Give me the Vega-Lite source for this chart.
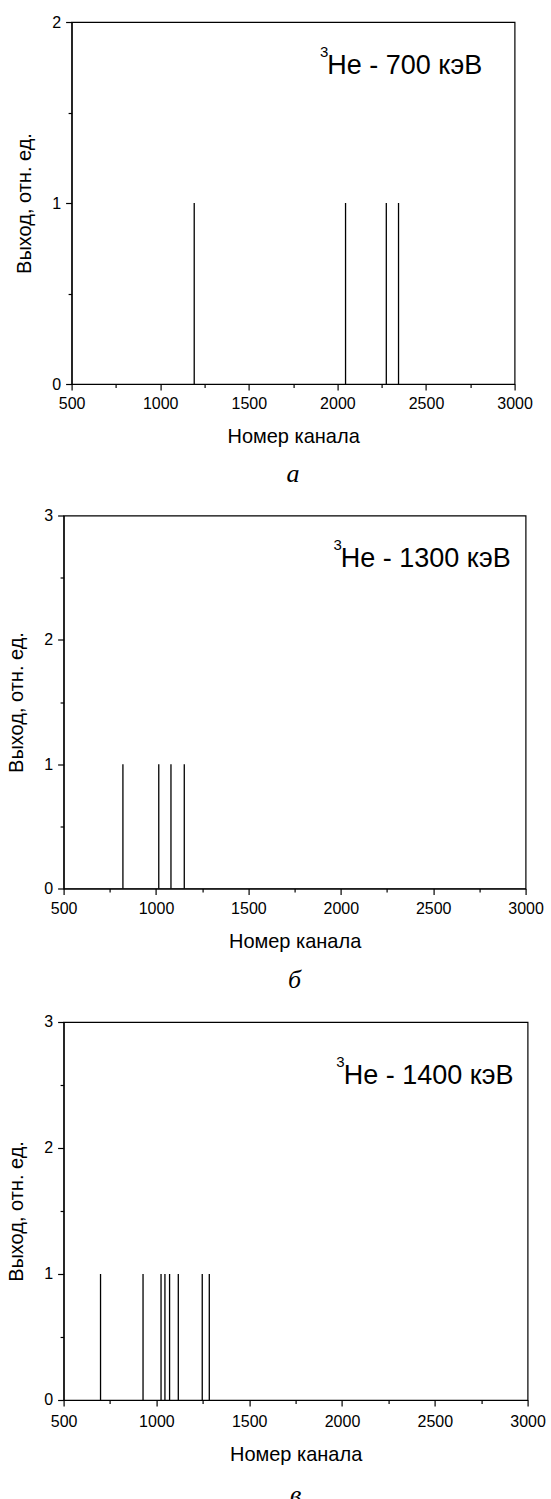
{
  "$schema": "https://vega.github.io/schema/vega-lite/v6.json",
  "background": "white",
  "padding": {"left": 5.6, "top": 13, "right": 2, "bottom": 0},
  "spacing": 18.5,
  "config": {
    "view": {"stroke": "black", "strokeWidth": 1.2},
    "axis": {
      "domainColor": "black", "domainWidth": 1.2, "tickColor": "black", "tickWidth": 1.2,
      "labelColor": "black", "titleColor": "black",
      "labelFont": "Liberation Sans", "titleFont": "Liberation Sans",
      "labelFontSize": 16, "titleFontSize": 20, "titleFontWeight": "normal",
      "grid": false, "labelFlush": false, "labelOverlap": false
    },
    "title": {"font": "Liberation Serif", "fontStyle": "italic", "fontSize": 26, "fontWeight": "normal", "color": "black", "orient": "bottom", "anchor": "middle"}
  },
  "datasets": {
    "p1": [
      {"channel": 1192, "yield": 1},
      {"channel": 2046, "yield": 1},
      {"channel": 2276, "yield": 1},
      {"channel": 2345, "yield": 1}
    ],
    "p2": [
      {"channel": 821, "yield": 1},
      {"channel": 1015, "yield": 1},
      {"channel": 1081, "yield": 1},
      {"channel": 1153, "yield": 1}
    ],
    "p3": [
      {"channel": 699, "yield": 1},
      {"channel": 928, "yield": 1},
      {"channel": 1025, "yield": 1},
      {"channel": 1046, "yield": 1},
      {"channel": 1071, "yield": 1},
      {"channel": 1118, "yield": 1},
      {"channel": 1247, "yield": 1},
      {"channel": 1285, "yield": 1}
    ],
    "a1": [{"channel": 1943, "yield": 1.713, "label": "He - 700 кэВ", "sup": "3"}],
    "a2": [{"channel": 2000, "yield": 2.589, "label": "He - 1300 кэВ", "sup": "3"}],
    "a3": [{"channel": 2009, "yield": 2.508, "label": "He - 1400 кэВ", "sup": "3"}]
  },
  "vconcat": [
    {
      "hconcat": [
        {
          "width": 8, "height": 1,
          "view": {"stroke": null},
          "data": {"values": []},
          "mark": "point"
        },
        {
          "width": 443, "height": 362,
          "title": {"text": "а", "offset": 14},
          "layer": [
            {
              "data": {"name": "p1"},
              "mark": {"type": "rule", "color": "black", "strokeWidth": 1.3},
              "encoding": {
                "x": {"field": "channel", "type": "quantitative", "title": "Номер канала",
                  "scale": {"domain": [500, 3000], "nice": false, "zero": false},
                  "axis": {"values": [500, 750, 1000, 1250, 1500, 1750, 2000, 2250, 2500, 2750, 3000],
                    "labelExpr": "datum.value % 500 === 0 ? format(datum.value, 'd') : ''",
                    "tickSize": {"condition": {"test": "datum.value % 500 !== 0", "value": 3.5}, "value": 6},
                    "labelPadding": 5.5, "titlePadding": 15}},
                "y": {"field": "yield", "type": "quantitative", "title": "Выход, отн. ед.",
                  "scale": {"domain": [0, 2], "nice": false},
                  "axis": {"values": [0, 0.5, 1, 1.5, 2],
                    "labelExpr": "datum.value % 1 === 0 ? format(datum.value, 'd') : ''",
                    "tickSize": {"condition": {"test": "datum.value % 1 !== 0", "value": 3.5}, "value": 6},
                    "labelPadding": 5, "titlePadding": 17.5}},
                "y2": {"datum": 0}
              }
            },
            {
              "data": {"name": "a1"},
              "mark": {"type": "text", "align": "left", "baseline": "alphabetic", "font": "Liberation Sans", "fontSize": 27, "color": "black"},
              "encoding": {
                "x": {"field": "channel", "type": "quantitative", "title": "Номер канала"},
                "y": {"field": "yield", "type": "quantitative", "title": "Выход, отн. ед."},
                "text": {"field": "label"}
              }
            },
            {
              "data": {"name": "a1"},
              "mark": {"type": "text", "align": "right", "baseline": "alphabetic", "font": "Liberation Sans", "fontSize": 15, "color": "black", "dx": 1, "dy": -17},
              "encoding": {
                "x": {"field": "channel", "type": "quantitative", "title": "Номер канала"},
                "y": {"field": "yield", "type": "quantitative", "title": "Выход, отн. ед."},
                "text": {"field": "sup"}
              }
            }
          ]
        }
      ],
      "spacing": 0,
      "bounds": "flush"
    },
    {
      "width": 462, "height": 373,
      "title": {"text": "б", "offset": 15},
      "layer": [
        {
          "data": {"name": "p2"},
          "mark": {"type": "rule", "color": "black", "strokeWidth": 1.3},
          "encoding": {
            "x": {"field": "channel", "type": "quantitative", "title": "Номер канала",
              "scale": {"domain": [500, 3000], "nice": false, "zero": false},
              "axis": {"values": [500, 750, 1000, 1250, 1500, 1750, 2000, 2250, 2500, 2750, 3000],
                "labelExpr": "datum.value % 500 === 0 ? format(datum.value, 'd') : ''",
                "tickSize": {"condition": {"test": "datum.value % 500 !== 0", "value": 3.5}, "value": 6},
                "labelPadding": 6.5, "titlePadding": 15}},
            "y": {"field": "yield", "type": "quantitative", "title": "Выход, отн. ед.",
              "scale": {"domain": [0, 3], "nice": false},
              "axis": {"values": [0, 0.5, 1, 1.5, 2, 2.5, 3],
                "labelExpr": "datum.value % 1 === 0 ? format(datum.value, 'd') : ''",
                "tickSize": {"condition": {"test": "datum.value % 1 !== 0", "value": 3.5}, "value": 6},
                "labelPadding": 5, "titlePadding": 17.5}},
            "y2": {"datum": 0}
          }
        },
        {
          "data": {"name": "a2"},
          "mark": {"type": "text", "align": "left", "baseline": "alphabetic", "font": "Liberation Sans", "fontSize": 27, "color": "black"},
          "encoding": {
            "x": {"field": "channel", "type": "quantitative", "title": "Номер канала"},
            "y": {"field": "yield", "type": "quantitative", "title": "Выход, отн. ед."},
            "text": {"field": "label"}
          }
        },
        {
          "data": {"name": "a2"},
          "mark": {"type": "text", "align": "right", "baseline": "alphabetic", "font": "Liberation Sans", "fontSize": 15, "color": "black", "dx": 1, "dy": -17},
          "encoding": {
            "x": {"field": "channel", "type": "quantitative", "title": "Номер канала"},
            "y": {"field": "yield", "type": "quantitative", "title": "Выход, отн. ед."},
            "text": {"field": "sup"}
          }
        }
      ]
    },
    {
      "width": 464, "height": 378,
      "title": {"text": "в", "offset": 18},
      "layer": [
        {
          "data": {"name": "p3"},
          "mark": {"type": "rule", "color": "black", "strokeWidth": 1.3},
          "encoding": {
            "x": {"field": "channel", "type": "quantitative", "title": "Номер канала",
              "scale": {"domain": [500, 3000], "nice": false, "zero": false},
              "axis": {"values": [500, 750, 1000, 1250, 1500, 1750, 2000, 2250, 2500, 2750, 3000],
                "labelExpr": "datum.value % 500 === 0 ? format(datum.value, 'd') : ''",
                "tickSize": {"condition": {"test": "datum.value % 500 !== 0", "value": 3.5}, "value": 6},
                "labelPadding": 7.5, "titlePadding": 15}},
            "y": {"field": "yield", "type": "quantitative", "title": "Выход, отн. ед.",
              "scale": {"domain": [0, 3], "nice": false},
              "axis": {"values": [0, 0.5, 1, 1.5, 2, 2.5, 3],
                "labelExpr": "datum.value % 1 === 0 ? format(datum.value, 'd') : ''",
                "tickSize": {"condition": {"test": "datum.value % 1 !== 0", "value": 3.5}, "value": 6},
                "labelPadding": 5, "titlePadding": 17.5}},
            "y2": {"datum": 0}
          }
        },
        {
          "data": {"name": "a3"},
          "mark": {"type": "text", "align": "left", "baseline": "alphabetic", "font": "Liberation Sans", "fontSize": 27, "color": "black"},
          "encoding": {
            "x": {"field": "channel", "type": "quantitative", "title": "Номер канала"},
            "y": {"field": "yield", "type": "quantitative", "title": "Выход, отн. ед."},
            "text": {"field": "label"}
          }
        },
        {
          "data": {"name": "a3"},
          "mark": {"type": "text", "align": "right", "baseline": "alphabetic", "font": "Liberation Sans", "fontSize": 15, "color": "black", "dx": 1, "dy": -17},
          "encoding": {
            "x": {"field": "channel", "type": "quantitative", "title": "Номер канала"},
            "y": {"field": "yield", "type": "quantitative", "title": "Выход, отн. ед."},
            "text": {"field": "sup"}
          }
        }
      ]
    }
  ]
}
